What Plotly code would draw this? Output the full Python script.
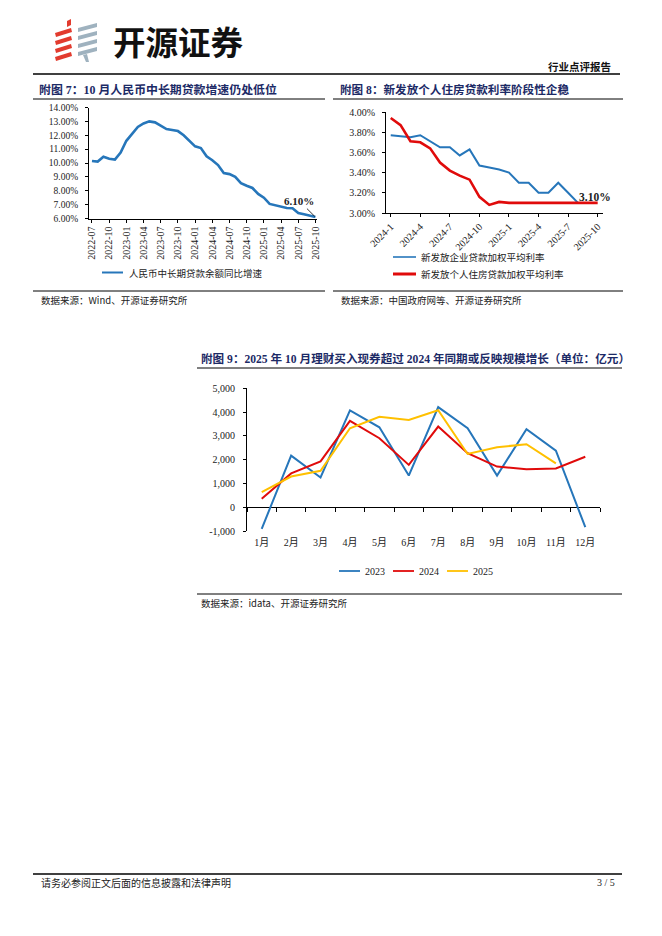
import plotly.graph_objects as go

W, H = 662, 936


def X(px):
    return px / W


def Y(py):
    return 1 - py / H


SERIF = "Liberation Serif, Noto Sans CJK SC, serif"
CJK = "Noto Sans CJK SC, sans-serif"
TXT = "#222222"
NAVY = "#1c2a66"
BLUE = "#2676BA"
RED = "#E00B0B"
YELLOW = "#FFC000"

# ---------------- Data: chart 7 ----------------
loan_months = [
    "2022-07", "2022-08", "2022-09", "2022-10", "2022-11", "2022-12",
    "2023-01", "2023-02", "2023-03", "2023-04", "2023-05", "2023-06",
    "2023-07", "2023-08", "2023-09", "2023-10", "2023-11", "2023-12",
    "2024-01", "2024-02", "2024-03", "2024-04", "2024-05", "2024-06",
    "2024-07", "2024-08", "2024-09", "2024-10", "2024-11", "2024-12",
    "2025-01", "2025-02", "2025-03", "2025-04", "2025-05", "2025-06",
    "2025-07", "2025-08", "2025-09", "2025-10",
]
loan_growth = [
    10.15, 10.10, 10.45, 10.30, 10.25, 10.75,
    11.60, 12.10, 12.60, 12.85, 13.00, 12.93,
    12.70, 12.45, 12.38, 12.30, 12.00, 11.60,
    11.20, 11.08, 10.48, 10.20, 9.85, 9.28,
    9.20, 9.00, 8.55, 8.36, 8.20, 7.77,
    7.50, 7.05, 6.95, 6.86, 6.76, 6.74,
    6.40, 6.30, 6.22, 6.10,
]
loan_ticks = ["2022-07", "2022-10", "2023-01", "2023-04", "2023-07", "2023-10",
              "2024-01", "2024-04", "2024-07", "2024-10", "2025-01", "2025-04",
              "2025-07", "2025-10"]

# ---------------- Data: chart 8 ----------------
rate_months = [
    "2024-1", "2024-2", "2024-3", "2024-4", "2024-5", "2024-6",
    "2024-7", "2024-8", "2024-9", "2024-10", "2024-11", "2024-12",
    "2025-1", "2025-2", "2025-3", "2025-4", "2025-5", "2025-6",
    "2025-7", "2025-8", "2025-9", "2025-10",
]
corp_rate = [3.77, 3.76, 3.75, 3.77, 3.71, 3.65, 3.65, 3.57, 3.63, 3.47,
             3.45, 3.43, 3.40, 3.30, 3.30, 3.20, 3.20, 3.30, 3.20, 3.10]
mortgage_rate = [3.94, 3.87, 3.71, 3.70, 3.64, 3.50, 3.42, 3.37, 3.33, 3.16,
                 3.08, 3.11, 3.10, 3.10, 3.10, 3.10, 3.10, 3.10, 3.10, 3.10,
                 3.10, 3.10]
rate_ticks = ["2024-1", "2024-4", "2024-7", "2024-10", "2025-1", "2025-4",
              "2025-7", "2025-10"]

# ---------------- Data: chart 9 ----------------
month_labels = ["1月", "2月", "3月", "4月", "5月", "6月",
                "7月", "8月", "9月", "10月", "11月", "12月"]
buy_2023 = [-910, 2170, 1250, 4070, 3360, 1330, 4210, 3320, 1330, 3280, 2380, -840]
buy_2024 = [360, 1420, 1930, 3630, 2900, 1780, 3390, 2270, 1710, 1600, 1630, 2120]
buy_2025 = [630, 1290, 1530, 3320, 3800, 3670, 4080, 2240, 2520, 2650, 1840]
y9_ticks = [-1000, 0, 1000, 2000, 3000, 4000, 5000]
y9_text = ["-1,000", "0", "1,000", "2,000", "3,000", "4,000", "5,000"]

fig = go.Figure()

fig.add_trace(go.Scatter(x=loan_months, y=loan_growth, mode="lines",
                         line=dict(color=BLUE, width=2.6), xaxis="x", yaxis="y",
                         showlegend=False, hoverinfo="skip"))
fig.add_trace(go.Scatter(x=rate_months[:len(corp_rate)], y=corp_rate, mode="lines",
                         line=dict(color=BLUE, width=2), xaxis="x2", yaxis="y2",
                         showlegend=False, hoverinfo="skip"))
fig.add_trace(go.Scatter(x=rate_months, y=mortgage_rate, mode="lines",
                         line=dict(color=RED, width=2.6), xaxis="x2", yaxis="y2",
                         showlegend=False, hoverinfo="skip"))
for vals, col in ((buy_2023, BLUE), (buy_2024, RED), (buy_2025, YELLOW)):
    fig.add_trace(go.Scatter(x=month_labels[:len(vals)], y=vals, mode="lines",
                             line=dict(color=col, width=2), xaxis="x3", yaxis="y3",
                             showlegend=False, hoverinfo="skip"))
fig.add_trace(go.Scatter(x=[None], y=[None], xaxis="x4", yaxis="y3",
                         showlegend=False, hoverinfo="skip"))

axis_common = dict(showline=True, linecolor="black", linewidth=1, ticks="outside",
                   ticklen=3, tickcolor="black", tickwidth=1, showgrid=False,
                   zeroline=False, automargin=False)

y9_lo, y9_hi = 531.0, 388.3
zero_py = y9_lo - (0 - (-1000)) / 6000 * (y9_lo - y9_hi)

fig.update_layout(
    width=W, height=H, margin=dict(l=0, r=0, t=0, b=0, pad=0, autoexpand=False),
    paper_bgcolor="white", plot_bgcolor="white", showlegend=False,
    xaxis=dict(domain=[X(89), X(317)], anchor="y", type="category",
               range=[-0.52, 39.27], tickvals=loan_ticks, tickangle=-90,
               tickfont=dict(family=SERIF, size=10, color=TXT), **axis_common),
    yaxis=dict(domain=[Y(218.5), Y(107.5)], anchor="x", range=[6, 14], dtick=1,
               tickformat=".2f", ticksuffix="%", ticklabelstandoff=5,
               tickfont=dict(family=SERIF, size=9.5, color=TXT), **axis_common),
    xaxis2=dict(domain=[X(386), X(603)], anchor="y2", type="category",
                range=[-0.48, 21.54], tickvals=rate_ticks, tickangle=-45,
                tickfont=dict(family=SERIF, size=10, color=TXT), **axis_common),
    yaxis2=dict(domain=[Y(213), Y(112)], anchor="x2", range=[3, 4], dtick=0.2,
                tickformat=".2f", ticksuffix="%", ticklabelstandoff=5,
                tickfont=dict(family=SERIF, size=10, color=TXT), **axis_common),
    xaxis3=dict(domain=[X(247), X(600)], anchor="y3", type="category",
                range=[-0.5, 11.5], showline=False, ticks="", showgrid=False,
                zeroline=False, ticklabelstandoff=4, automargin=False,
                tickfont=dict(family=SERIF, size=10, color=TXT)),
    yaxis3=dict(domain=[Y(y9_lo), Y(y9_hi)], anchor="x3", range=[-1000, 5000],
                tickvals=y9_ticks, ticktext=y9_text, ticklabelstandoff=6,
                tickfont=dict(family=SERIF, size=10, color=TXT), automargin=False,
                showline=True, linecolor="black", linewidth=1, ticks="outside",
                ticklen=3, tickcolor="black", showgrid=False,
                zeroline=True, zerolinecolor="black", zerolinewidth=1),
    xaxis4=dict(domain=[X(247), X(600)], overlaying="x3", anchor="free",
                position=Y(zero_py), range=[-0.5, 11.5], showline=False,
                tickvals=[-0.5 + i for i in range(13)], ticks="outside",
                ticklen=4, tickcolor="black", showticklabels=False,
                showgrid=False, zeroline=False, automargin=False),
)

shapes = []
annots = []


def hline(x0, x1, py, color="black", width=1):
    shapes.append(dict(type="line", xref="paper", yref="paper", x0=X(x0), x1=X(x1),
                       y0=Y(py), y1=Y(py), line=dict(color=color, width=width)))


def text(px, py, s, size=9.5, family=CJK, color=TXT, anchor="left", bold=False):
    if bold:
        s = "<b>" + s + "</b>"
    annots.append(dict(xref="paper", yref="paper", x=X(px), y=Y(py), text=s,
                       showarrow=False, xanchor=anchor, yanchor="middle",
                       font=dict(family=family, size=size, color=color)))


# ---------------- Header ----------------
def poly(points, color):
    path = "M " + " L ".join(f"{X(a):.5f},{Y(b):.5f}" for a, b in points) + " Z"
    shapes.append(dict(type="path", xref="paper", yref="paper", path=path,
                       fillcolor=color, line=dict(width=0)))


RED_LOGO = "#E23B2E"
GRAY_LOGO = "#9FB2BF"
poly([(67, 21), (71, 19), (71, 25), (67, 27)], RED_LOGO)
for y0 in (30, 38, 46, 54):
    poly([(55, y0 + 3), (71, y0 - 2), (72, y0 + 2), (56, y0 + 7)], RED_LOGO)
for y0 in (24, 32, 40, 48):
    poly([(78, y0 + 4), (97, y0 - 1), (97, y0 + 3), (78, y0 + 8)], GRAY_LOGO)
poly([(83, 55), (87, 54), (89, 62), (86, 62)], GRAY_LOGO)
text(111, 41, "开源证券", size=32.5, family=CJK, color="#111111", bold=True)
text(613, 67, "行业点评报告", size=10.5, family=CJK, color="#111111", anchor="right", bold=True)
hline(33, 620, 74, width=1.3)

# ---------------- Chart 7 frame ----------------
text(37, 90, "附图 7：10 月人民币中长期贷款增速仍处低位", size=11.9, family=SERIF, color=NAVY, bold=True)
hline(33, 325, 99)
shapes.append(dict(type="line", xref="paper", yref="paper", x0=X(102), x1=X(123),
                   y0=Y(272.5), y1=Y(272.5), line=dict(color=BLUE, width=2)))
text(127, 272.5, "人民币中长期贷款余额同比增速", size=9.5)
hline(33, 325, 291)
text(39, 300, "数据来源：Wind、开源证券研究所", size=9.5)
annots.append(dict(xref="x", yref="y", x=loan_months[-1], y=loan_growth[-1],
                   text="<b>6.10%</b>", showarrow=True, arrowhead=0, arrowwidth=0.8,
                   arrowcolor="black", ax=-16, ay=-16, standoff=1,
                   font=dict(family=SERIF, size=11, color=TXT)))

# ---------------- Chart 8 frame ----------------
text(338, 90, "附图 8：新发放个人住房贷款利率阶段性企稳", size=11.6, family=SERIF, color=NAVY, bold=True)
hline(333, 623, 99)
shapes.append(dict(type="line", xref="paper", yref="paper", x0=X(393), x1=X(416),
                   y0=Y(257), y1=Y(257), line=dict(color=BLUE, width=1.6)))
text(419, 257, "新发放企业贷款加权平均利率", size=9.5)
shapes.append(dict(type="line", xref="paper", yref="paper", x0=X(393), x1=X(416),
                   y0=Y(274), y1=Y(274), line=dict(color=RED, width=3)))
text(419, 274, "新发放个人住房贷款加权平均利率", size=9.5)
hline(333, 623, 291)
text(339, 300, "数据来源：中国政府网等、开源证券研究所", size=9.5)
annots.append(dict(xref="x2", yref="paper", x=rate_months[-1], y=Y(189),
                   text="<b>3.10%</b>", showarrow=False, xanchor="right", xshift=15,
                   font=dict(family=SERIF, size=11.5, color=TXT)))

# ---------------- Chart 9 frame ----------------
text(199, 359, "附图 9：2025 年 10 月理财买入现券超过 2024 年同期或反映规模增长（单位：亿元）",
     size=11.6, family=SERIF, color=NAVY, bold=True)
hline(197, 622, 368)
for x0, col, lab in ((339, BLUE, "2023"), (393, RED, "2024"), (447, YELLOW, "2025")):
    shapes.append(dict(type="line", xref="paper", yref="paper", x0=X(x0), x1=X(x0 + 21),
                       y0=Y(571), y1=Y(571), line=dict(color=col, width=1.8)))
    text(x0 + 24, 571, lab, size=10, family=SERIF)
hline(197, 622, 594)
text(199, 603, "数据来源：idata、开源证券研究所", size=9.5)

# ---------------- Footer ----------------
hline(33, 622, 874, width=1.3)
text(39, 882, "请务必参阅正文后面的信息披露和法律声明", size=10)
text(617, 882, "3 / 5", size=10, family=SERIF, anchor="right")

fig.update_layout(shapes=shapes, annotations=annots)

fig.write_html("out.html", config={"displayModeBar": False},
               post_script="document.body.style.margin='0';document.body.style.overflow='hidden';")
